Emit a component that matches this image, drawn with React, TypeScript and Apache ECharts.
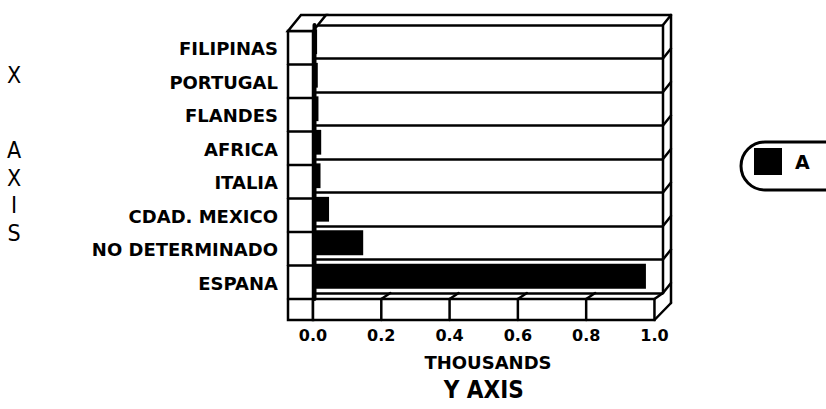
import React, { useEffect, useRef } from "react";
import * as echarts from "echarts";

// ---- data ----
const categories = [
  "ESPANA",
  "NO DETERMINADO",
  "CDAD. MEXICO",
  "ITALIA",
  "AFRICA",
  "FLANDES",
  "PORTUGAL",
  "FILIPINAS",
];
const valuesA = [0.975, 0.147, 0.047, 0.022, 0.024, 0.016, 0.014, 0.012];
const tickValues = [0, 0.2, 0.4, 0.6, 0.8, 1.0];
const seriesName = "A";
const unitLabel = "THOUSANDS";
const bottomTitle = "Y AXIS";
const sideTitleTop = "X";
const sideTitleLetters = ["A", "X", "I", "S"];

// ---- style ----
const BOLD = "'DejaVu Sans', 'Liberation Sans', sans-serif";
const NARROW = "'Liberation Sans Narrow', 'DejaVu Sans Condensed', 'Liberation Sans', sans-serif";
const AXIS_MAX = 1.025;
const LW = 2.5;

export default function App() {
  const ref = useRef<HTMLDivElement>(null);

  useEffect(() => {
    document.body.style.margin = "0";
    if (!ref.current) return;
    const chart = echarts.init(ref.current, null, { renderer: "svg" });

    const option: any = {
      animation: false,
      backgroundColor: "#fff",
      grid: { left: 313, top: 25, width: 350, height: 268, containLabel: false },
      xAxis: {
        type: "value",
        min: 0,
        max: AXIS_MAX,
        interval: 0.2,
        axisLine: { show: false },
        axisTick: { show: false },
        splitLine: { show: false },
        axisLabel: {
          margin: 34,
          showMaxLabel: false,
          color: "#000",
          fontFamily: BOLD,
          fontWeight: "bold",
          fontSize: 16,
          formatter: (v: number) => (v > 1.0001 ? "" : v.toFixed(1)),
        },
        name: unitLabel,
        nameLocation: "middle",
        nameGap: 60,
        nameTextStyle: { color: "#000", fontFamily: BOLD, fontWeight: "bold", fontSize: 18 },
      },
      yAxis: {
        type: "category",
        data: categories,
        axisLine: { show: false },
        axisTick: { show: false },
        splitLine: { show: true, lineStyle: { color: "#000", width: LW } },
        axisLabel: {
          margin: 35,
          color: "#000",
          fontFamily: BOLD,
          fontWeight: "bold",
          fontSize: 18,
          verticalAlign: "top",
          lineHeight: 14,
        },
      },
      legend: {
        left: 741,
        top: 142,
        orient: "horizontal",
        icon: "rect",
        itemWidth: 28,
        itemHeight: 27,
        padding: [6, 40, 15, 13],
        borderColor: "#000",
        borderWidth: 3,
        borderRadius: 24,
        backgroundColor: "#fff",
        textStyle: {
          color: "#000",
          fontFamily: BOLD,
          fontWeight: "bold",
          fontSize: 19,
          padding: [0, 0, 0, 8],
        },
        data: [seriesName],
      },
      series: [
        {
          type: "bar",
          name: seriesName,
          data: valuesA,
          barCategoryGap: "26%",
          itemStyle: { color: "#000" },
          z: 3,
        },
      ],
    };
    chart.setOption(option);

    // frame geometry derived from the chart's own scales
    const px = (v: number) => chart.convertToPixel({ xAxisIndex: 0 }, v) as number;
    const py = (i: number) => chart.convertToPixel({ yAxisIndex: 0 }, i) as number;
    const band = Math.abs(py(0) - py(1));
    const top = py(categories.length - 1) - band / 2;
    const bottom = py(0) + band / 2;
    const x0 = px(0);
    const xOne = px(1.0);
    const xR = px(AXIS_MAX);
    const DX = 8;
    const DY = -10;
    const FRONT = 6;
    const FLOOR_H = 21;
    const WALL_W = 25;

    const line = (x1: number, y1: number, x2: number, y2: number, w = LW) => ({
      type: "line",
      silent: true,
      z: 50,
      shape: { x1, y1, x2, y2 },
      style: { stroke: "#000", lineWidth: w, lineCap: "round" },
    });

    const g: any[] = [];
    // left wall front face
    g.push({
      type: "rect",
      silent: true,
      z: 40,
      shape: { x: x0 - WALL_W, y: top + FRONT, width: WALL_W, height: bottom + FRONT + FLOOR_H - (top + FRONT) },
      style: { fill: "#fff", stroke: "#000", lineWidth: LW },
    });
    for (let i = 1; i <= categories.length; i++) {
      const y = top + FRONT + i * band;
      g.push(line(x0 - WALL_W, y, x0, y));
    }
    // left wall top
    g.push({
      type: "polygon",
      silent: true,
      z: 40,
      shape: {
        points: [
          [x0 - WALL_W, top + FRONT],
          [x0, top + FRONT],
          [x0 + 13, top + DY],
          [x0 - WALL_W + 13, top + DY],
        ],
      },
      style: { fill: "#fff", stroke: "#000", lineWidth: LW },
    });
    // top back edge
    g.push(line(x0 + 13, top + DY, xR + DX, top + DY));
    // right edge of back plane and outer edge
    g.push(line(xR, top, xR, bottom));
    g.push(line(xR + DX, top + DY, xR + DX, bottom + 10));
    for (let i = 0; i <= categories.length; i++) {
      const y = top + i * band;
      g.push(line(xR, y, xR + DX, y + DY));
    }
    // floor front box
    g.push({
      type: "rect",
      silent: true,
      z: 40,
      shape: { x: x0, y: bottom + FRONT, width: xOne - x0, height: FLOOR_H },
      style: { fill: "#fff", stroke: "#000", lineWidth: LW },
    });
    tickValues.forEach((t) => {
      if (t > 0 && t < 1) {
        const x = px(t);
        g.push(line(x, bottom + FRONT, x, bottom + FRONT + FLOOR_H));
        g.push(line(x, bottom + FRONT, x + 9, bottom));
      }
    });
    g.push(line(xOne, bottom + FRONT, xR, bottom));
    g.push(line(xOne, bottom + FRONT + FLOOR_H, xR + DX, bottom + 10));
    // thick left edge of the back plane
    g.push(line(x0 + 1.5, top, x0 + 1.5, bottom + FRONT, 4));

    // titles
    g.push({
      type: "text",
      silent: true,
      style: {
        x: (x0 + xOne) / 2,
        y: 390,
        text: bottomTitle,
        fill: "#000",
        font: `bold 24px ${NARROW}`,
        textAlign: "center",
        textVerticalAlign: "middle",
      },
    });
    g.push({
      type: "text",
      silent: true,
      style: {
        x: 14,
        y: 75,
        text: sideTitleTop,
        fill: "#000",
        font: `23px ${NARROW}`,
        textAlign: "center",
        textVerticalAlign: "middle",
      },
    });
    sideTitleLetters.forEach((ch, i) => {
      g.push({
        type: "text",
        silent: true,
        style: {
          x: 14,
          y: 150 + i * 27.7,
          text: ch,
          fill: "#000",
          font: `23px ${NARROW}`,
          textAlign: "center",
          textVerticalAlign: "middle",
        },
      });
    });

    chart.setOption({ graphic: g });

    return () => chart.dispose();
  }, []);

  return (
    <div
      ref={ref}
      style={{ position: "absolute", left: 0, top: 0, width: 826, height: 409, background: "#fff" }}
    />
  );
}
